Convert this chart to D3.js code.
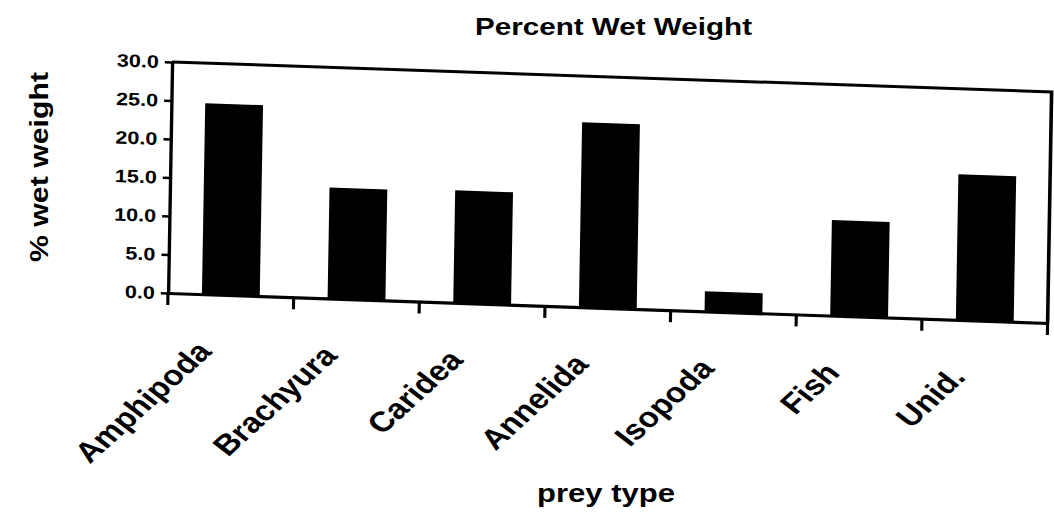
<!DOCTYPE html>
<html>
<head>
<meta charset="utf-8">
<script src="https://cdn.jsdelivr.net/npm/d3@7"></script>
<style>
  body { margin: 0; background: #fff; }
  svg { display: block; }
  text { font-family: "Liberation Sans", Arial, sans-serif; font-weight: bold; fill: #000; }
</style>
</head>
<body>
<div id="chart"></div>
<script>
// data
var categories = ["Amphipoda", "Brachyura", "Caridea", "Annelida", "Isopoda", "Fish", "Unid."]
var values = [24.8, 14.4, 14.6, 24.0, 2.6, 12.4, 18.9]
var yTicks = [0, 5, 10, 15, 20, 25, 30]

var width = 1054, height = 514

// plot area in its own (unskewed) coordinates
var pw = 733, ph = 231

var svg = d3.select("#chart").append("svg")
    .attr("width", width)
    .attr("height", height)

// the scanned page is a bit stretched and tilted, so the plot gets a matrix
var plot = svg.append("g")
    .attr("transform", "matrix(1.2,0.0409,-0.0173,1,172,62)")

var x = d3.scaleBand().domain(categories).range([0, pw]).paddingInner(0.54).paddingOuter(0.27)
var xb = d3.scaleLinear().domain([0, categories.length]).range([0, pw])
var y = d3.scaleLinear().domain([0, 30]).range([ph, 0])

var yAxis = d3.axisLeft(y).tickValues(yTicks).tickFormat(d3.format(".1f"))
    .tickSize(6).tickSizeOuter(0).tickPadding(5)
var xAxis = d3.axisBottom(x).tickSize(0).tickSizeOuter(0)

plot.selectAll(".bar")
    .data(values)
    .enter().append("rect")
    .attr("class", "bar")
    .attr("x", (d, i) => x(categories[i]))
    .attr("width", x.bandwidth())
    .attr("y", d => y(d))
    .attr("height", d => ph - y(d))
    .style("fill", "#000")

// plot area border (top and right)
plot.append("path")
    .attr("d", "M0,0H" + pw + "V" + ph)
    .attr("fill", "none")
    .attr("stroke", "#000")
    .attr("stroke-width", 3)

var gy = plot.append("g").attr("class", "y axis").call(yAxis)
gy.select(".domain").attr("stroke-width", 2.8)
gy.selectAll(".tick line").attr("stroke-width", 2.6)
gy.selectAll(".tick text").style("font-size", "18px")

var gx = plot.append("g")
    .attr("class", "x axis")
    .attr("transform", "translate(0," + ph + ")")
    .call(xAxis)
gx.select(".domain").attr("stroke-width", 3.2)
gx.selectAll(".tick text")
    .style("font-size", "28px")
    .style("text-anchor", "end")
    .attr("x", 0).attr("y", 0).attr("dy", 0)
    .attr("transform", "translate(-14,58) rotate(-49)")

// category boundary ticks
plot.append("g").selectAll("line")
    .data(d3.range(categories.length + 1))
    .enter().append("line")
    .attr("x1", d => xb(d)).attr("x2", d => xb(d))
    .attr("y1", ph).attr("y2", ph + 12)
    .attr("stroke", "#000")
    .attr("stroke-width", 2.6)

svg.append("text")
    .attr("x", 475).attr("y", 35)
    .attr("textLength", 277).attr("lengthAdjust", "spacingAndGlyphs")
    .style("font-size", "24px")
    .text("Percent Wet Weight")

svg.append("text")
    .attr("transform", "translate(48,262) rotate(-90)")
    .attr("textLength", 190).attr("lengthAdjust", "spacingAndGlyphs")
    .style("font-size", "26px")
    .text("% wet weight")

svg.append("text")
    .attr("x", 537).attr("y", 502)
    .attr("textLength", 138).attr("lengthAdjust", "spacingAndGlyphs")
    .style("font-size", "26px")
    .text("prey type")
</script>
</body>
</html>
